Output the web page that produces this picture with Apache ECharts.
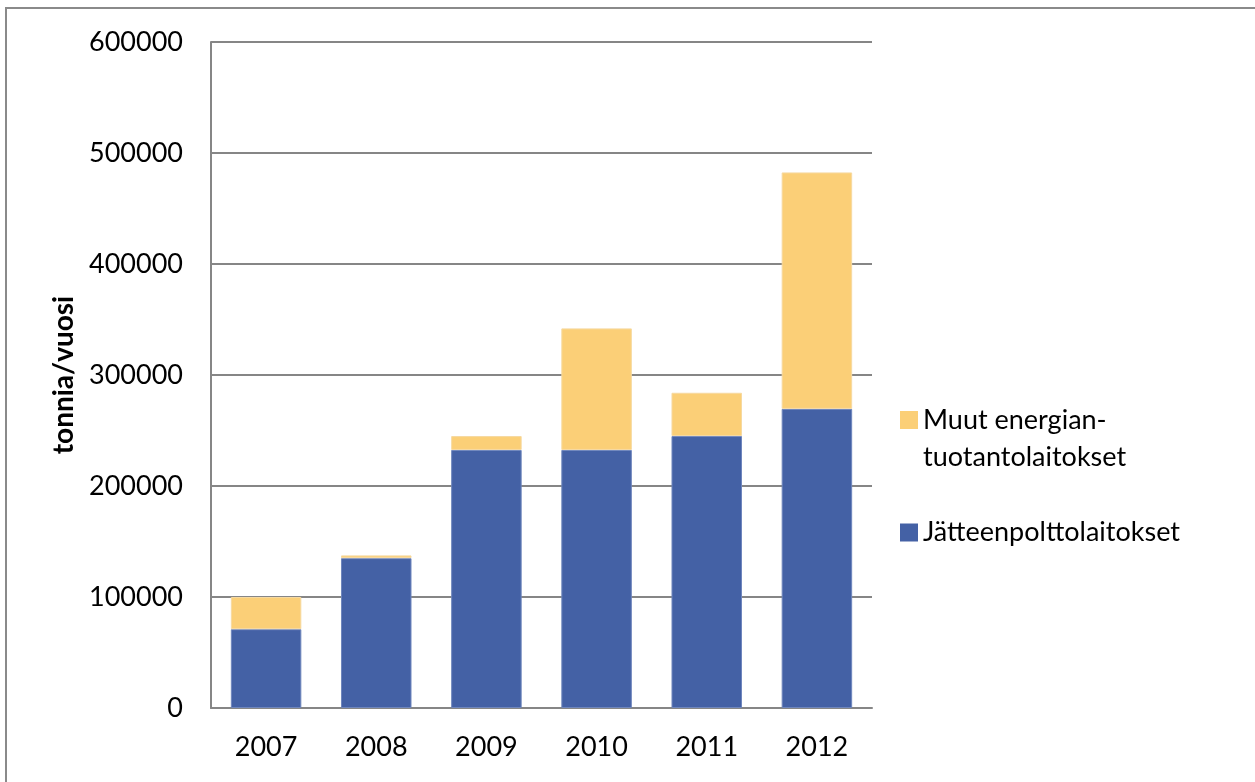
<!DOCTYPE html>
<html>
<head>
<meta charset="utf-8">
<script src="https://cdn.jsdelivr.net/npm/echarts@6/dist/echarts.min.js"></script>
<style>
  html, body { margin: 0; padding: 0; background: #fff; }
  #chart { width: 1255px; height: 782px; }
</style>
</head>
<body>
<div id="chart"></div>
<script>
// Vuodet ja tonnimäärät (tonnia/vuosi)
const years = ['2007', '2008', '2009', '2010', '2011', '2012'];
const jatteenpoltto = [71000, 135000, 232500, 232500, 245000, 269500];
const muutTotal = [100000, 137500, 245000, 342000, 284000, 482500];
const muut = muutTotal.map((t, i) => t - jatteenpoltto[i]);
const yTicks = [0, 100000, 200000, 300000, 400000, 500000, 600000];

const nameJ = 'Jätteenpolttolaitokset';
const nameM = 'Muut energian-\ntuotantolaitokset';
const FONT = 'Lato';
const FS = 27;

const chart = echarts.init(document.getElementById('chart'), null, { renderer: 'canvas' });
chart.setOption({
  animation: false,
  backgroundColor: '#fff',
  textStyle: { fontFamily: FONT },
  graphic: [{
    type: 'rect',
    shape: { x: 6, y: 8, width: 1260, height: 790 },
    style: { fill: null, stroke: '#8a8a8a', lineWidth: 2 },
    silent: true
  }],
  grid: { left: 211, top: 42, right: 383, bottom: 74 },
  legend: [{
    data: [nameM],
    orient: 'vertical',
    left: 900, top: 407,
    padding: 0,
    itemWidth: 18, itemHeight: 56,
    itemGap: 6,
    // square drawn at the top of a taller icon box so it lines up with the first text line
    icon: 'path://M0,0L18,0L18,18L0,18Z M0,56L0,56',
    itemStyle: { borderWidth: 0 },
    textStyle: { fontFamily: FONT, fontSize: FS, color: '#000', lineHeight: 37, padding: [-18, 0, 0, 0] }
  }, {
    data: [nameJ],
    orient: 'vertical',
    left: 900, top: 519,
    padding: 0,
    itemWidth: 18, itemHeight: 18,
    icon: 'rect',
    itemStyle: { borderWidth: 0 },
    textStyle: { fontFamily: FONT, fontSize: FS, color: '#000' }
  }],
  xAxis: {
    type: 'category',
    data: years,
    axisLine: { lineStyle: { color: '#868686', width: 2 } },
    axisTick: { show: false },
    axisLabel: { color: '#000', fontSize: FS, fontFamily: FONT, margin: 26 }
  },
  yAxis: {
    type: 'value',
    min: 0, max: 600000, interval: 100000,
    name: 'tonnia/vuosi',
    nameLocation: 'middle',
    nameGap: 133,
    nameTextStyle: { fontSize: 28, fontWeight: 'bold', color: '#000', fontFamily: FONT },
    axisLine: { show: true, lineStyle: { color: '#868686', width: 2 } },
    axisTick: { show: false },
    splitLine: { lineStyle: { color: '#868686', width: 2 } },
    axisLabel: {
      color: '#000', fontSize: FS, fontFamily: FONT, margin: 28,
      formatter: v => yTicks.includes(v) ? String(v) : ''
    }
  },
  series: [{
    name: nameJ,
    type: 'bar',
    stack: 'total',
    data: jatteenpoltto,
    barWidth: '64%',
    itemStyle: { color: '#4461A5', borderColor: '#6f86bd', borderWidth: 1 }
  }, {
    name: nameM,
    type: 'bar',
    stack: 'total',
    data: muut,
    barWidth: '64%',
    itemStyle: { color: '#FBCF77', borderColor: '#f6d9a0', borderWidth: 1 }
  }]
});
</script>
</body>
</html>
